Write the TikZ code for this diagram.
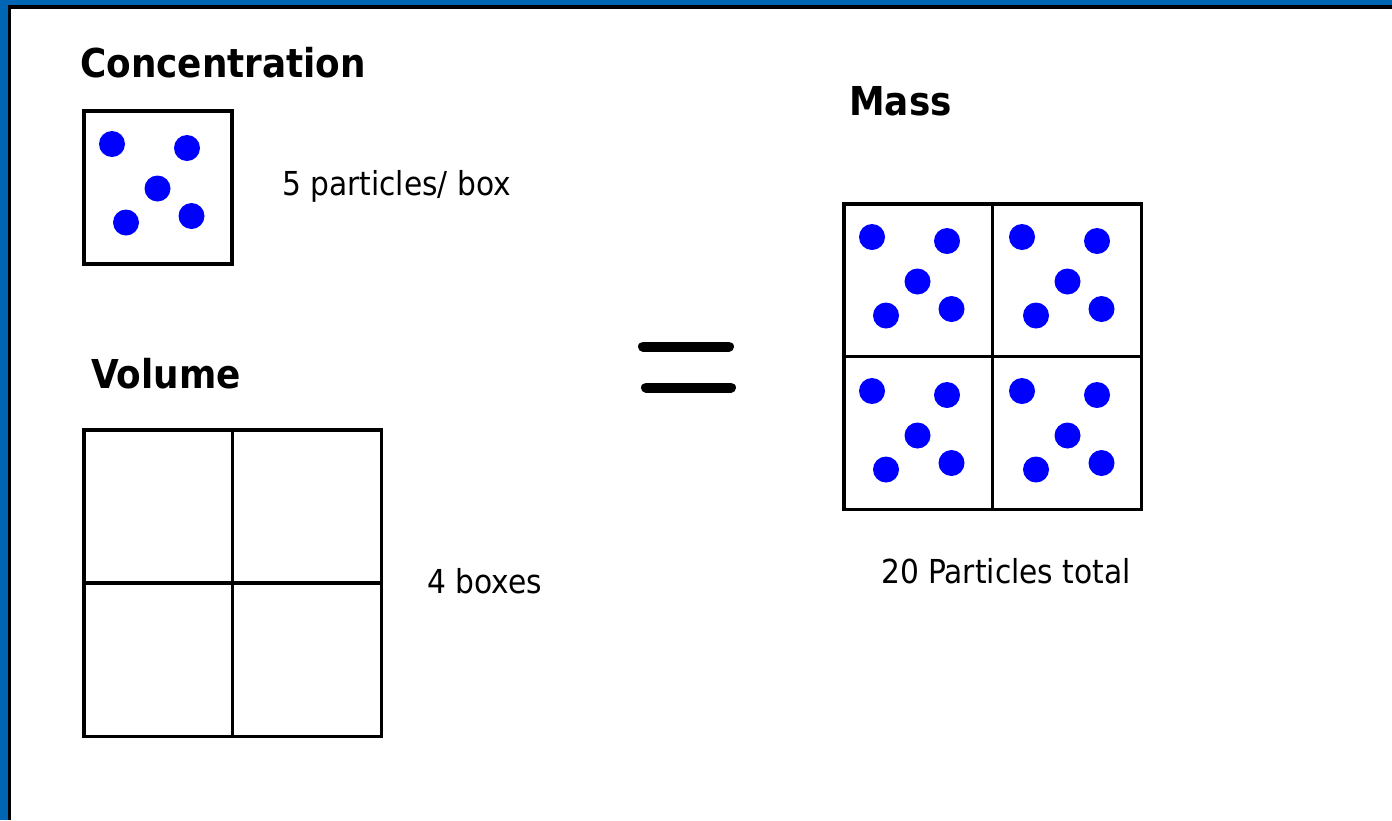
\documentclass[tikz,border=0pt]{standalone}
\usepackage{fontspec}
\setmainfont{DejaVu Sans Condensed}
\definecolor{borderblue}{RGB}{0,102,179}
\definecolor{dotblue}{RGB}{0,0,255}
\tikzset{
  heading/.style={anchor=base west, inner sep=0pt, font=\fontsize{39.8}{42}\selectfont\bfseries, text=black},
  label/.style={anchor=base west, inner sep=0pt, font=\fontsize{33}{35}\selectfont, text=black},
  box/.style={draw=black, line width=3.5pt, inner sep=0pt, anchor=north west},
  gridline/.style={draw=black, line width=3.5pt},
  eqbar/.style={line width=10pt, line cap=round},
  particles/.pic={
    \fill[dotblue] (30,35) circle (13);
    \fill[dotblue] (105,39) circle (13);
    \fill[dotblue] (75.5,79.5) circle (13);
    \fill[dotblue] (44,113.5) circle (13);
    \fill[dotblue] (109.5,107) circle (13);
  }
}
\begin{document}
\begin{tikzpicture}[x=1pt,y=-1pt]
\useasboundingbox (0,0) rectangle (1392,820);
\fill[white] (0,0) rectangle (1392,820);
% frame
\fill[borderblue] (0,0) rectangle (1392,4.5);
\fill[black] (8,4.5) rectangle (1392,8.5);
\fill[borderblue] (0,0) rectangle (8,820);
\fill[black] (8,4.5) rectangle (11,820);

% concentration
\node[heading] (tconc) at (80,77) {Concentration};
\node[box, minimum width=148pt, minimum height=153pt] (conc) at (82,109) {};
\pic at (82,109) {particles};
\node[label] (tconcnum) at (282,195) {5 particles/ box};

% volume
\node[heading] (tvol) at (91,388) {Volume};
\node[box, minimum width=297.5pt, minimum height=306.5pt] (vol) at (82,428) {};
\draw[gridline] (vol.north) -- (vol.south);
\draw[gridline] (vol.west) -- (vol.east);
\node[label] (tvolnum) at (427,593) {4 boxes};

% equals
\coordinate (e1a) at (643,346.5);
\coordinate (e1b) at (729,346.5);
\coordinate (e2a) at (646,387.5);
\coordinate (e2b) at (731,387.5);
\draw[eqbar] (e1a) -- (e1b);
\draw[eqbar] (e2a) -- (e2b);

% mass
\node[heading] (tmass) at (849,115) {Mass};
\node[box, minimum width=297.5pt, minimum height=305.5pt] (mass) at (842,202) {};
\draw[gridline] (mass.north) -- (mass.south);
\draw[gridline] (mass.west) -- (mass.east);
\pic at (842,202) {particles};
\pic at (992,202) {particles};
\pic at (842,356) {particles};
\pic at (992,356) {particles};
\node[label] (tmassnum) at (881,583) {20 Particles total};
\end{tikzpicture}
\end{document}
